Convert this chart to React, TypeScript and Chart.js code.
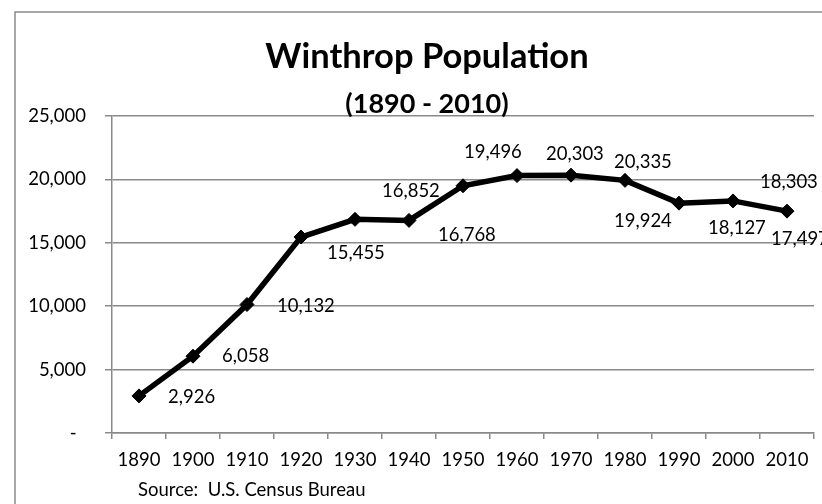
import React, { useEffect, useRef } from "react";
import { Chart, registerables } from "chart.js";

Chart.register(...registerables);

const YEARS = ["1890", "1900", "1910", "1920", "1930", "1940", "1950", "1960", "1970", "1980", "1990", "2000", "2010"];
const POPULATION = [2926, 6058, 10132, 15455, 16852, 16768, 19496, 20303, 20335, 19924, 18127, 18303, 17497];
const Y_TICKS = [0, 5000, 10000, 15000, 20000, 25000];
const TITLE = "Winthrop Population";
const SUBTITLE = "(1890 - 2010)";
const SOURCE = "Source:  U.S. Census Bureau";

// label nudges relative to each marker (style only)
const LABEL_DX = [29, 29, 30, 26, 27, 29, 1, 29, 43, -11, 29, 27, -16];
const LABEL_DY = [1, 0, 2, 16, -28, 15, -34, -22, -13, 41, 25, -19, 28];

const FONT = "Lato, 'Open Sans', sans-serif";
const GRID = "#8a8a8a";

const fmt = (v: number) => v.toLocaleString("en-US");

const decor = {
  id: "decor",
  beforeDraw(chart: any) {
    const ctx = chart.ctx;
    ctx.save();
    ctx.fillStyle = "#ffffff";
    ctx.fillRect(0, 0, chart.width, chart.height);
    ctx.strokeStyle = GRID;
    ctx.lineWidth = 1.5;
    ctx.strokeRect(15, 12, chart.width + 20, chart.height + 20);
    ctx.restore();
  },
  afterDatasetsDraw(chart: any) {
    const ctx = chart.ctx;
    const meta = chart.getDatasetMeta(0);
    ctx.save();
    ctx.fillStyle = "#000";
    ctx.font = `18.5px ${FONT}`;
    ctx.textAlign = "left";
    ctx.textBaseline = "middle";
    meta.data.forEach((pt: any, i: number) => {
      ctx.fillText(fmt(POPULATION[i]), pt.x + LABEL_DX[i], pt.y + LABEL_DY[i]);
    });
    // titles
    const cx = chart.width / 2 + 16;
    ctx.textAlign = "center";
    ctx.textBaseline = "alphabetic";
    ctx.font = `bold 34.5px ${FONT}`;
    ctx.fillText(TITLE, cx, 68);
    ctx.font = `bold 27px ${FONT}`;
    ctx.fillText(SUBTITLE, cx, 113);
    // source
    ctx.textAlign = "left";
    ctx.textBaseline = "middle";
    ctx.font = `18.5px ${FONT}`;
    ctx.fillText(SOURCE, chart.chartArea.left + 26, chart.chartArea.bottom + 57);
    ctx.restore();
  },
};

export default function App() {
  const ref = useRef<HTMLCanvasElement | null>(null);
  useEffect(() => {
    if (!ref.current) return;
    const chart = new Chart(ref.current, {
      type: "line",
      data: {
        labels: YEARS,
        datasets: [
          {
            data: POPULATION,
            borderColor: "#000",
            backgroundColor: "#000",
            borderWidth: 5.5,
            pointStyle: "rectRot",
            pointRadius: 7,
            pointBorderWidth: 1,
            pointBackgroundColor: "#000",
            pointBorderColor: "#000",
            tension: 0,
          },
        ],
      },
      options: {
        responsive: false,
        animation: false,
        devicePixelRatio: 1,
        layout: { padding: { top: 116, right: 4, left: 0, bottom: 0 } },
        plugins: { legend: { display: false }, tooltip: { enabled: false }, title: { display: false } },
        scales: {
          x: {
            type: "category",
            offset: true,
            grid: { offset: true, drawOnChartArea: false, drawTicks: true, tickLength: 6, color: GRID, lineWidth: 1.5 },
            border: { display: true, color: GRID, width: 1.5 },
            ticks: { color: "#000", font: { family: FONT, size: 18.5 }, padding: 10, autoSkip: false, maxRotation: 0 },
            afterFit(scale: any) {
              scale.height = 71;
            },
          },
          y: {
            min: 0,
            max: 25000,
            afterBuildTicks(scale: any) {
              scale.ticks = Y_TICKS.map((v) => ({ value: v }));
            },
            grid: { drawOnChartArea: true, drawTicks: true, tickLength: 7, color: GRID, lineWidth: 1.5 },
            border: { display: true, color: GRID, width: 1.5 },
            ticks: {
              color: "#000",
              font: { family: FONT, size: 18.5 },
              padding: 19,
              callback: (v: any) => (Number(v) === 0 ? "-  " : fmt(Number(v))),
            },
            afterFit(scale: any) {
              scale.width = 112;
            },
          },
        },
      },
      plugins: [decor],
    });
    return () => chart.destroy();
  }, []);
  return (
    <div style={{ position: "absolute", left: 0, top: 0, width: 822, height: 504, background: "#fff" }}>
      <canvas ref={ref} width={822} height={504} />
    </div>
  );
}
